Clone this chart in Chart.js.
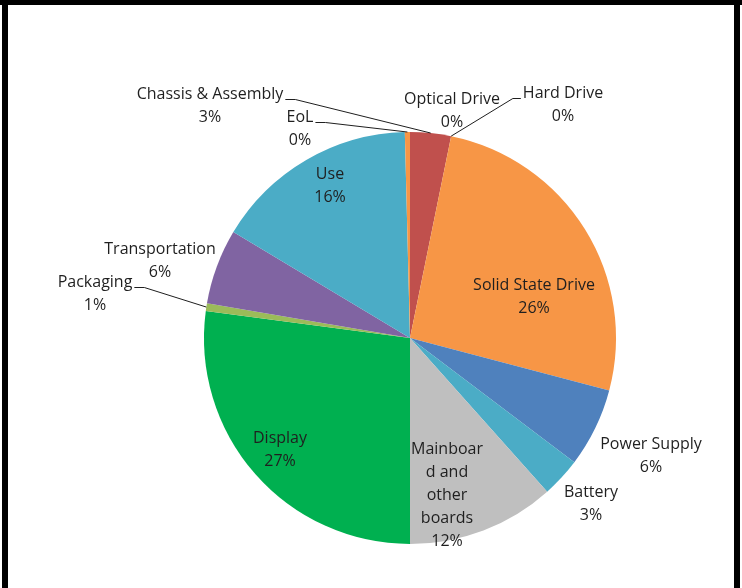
<!DOCTYPE html>
<html>
<head>
<meta charset="utf-8">
<script src="https://cdn.jsdelivr.net/npm/chart.js@4/dist/chart.umd.min.js"></script>
<style>
  html, body { margin: 0; padding: 0; background: #fff; }
  canvas { display: block; }
</style>
</head>
<body>
<canvas id="pie" width="742" height="588"></canvas>
<script>
// slice order is clockwise from 12 o'clock, as in the picture
const categories = ['Chassis & Assembly', 'Optical Drive', 'Hard Drive', 'Solid State Drive',
  'Power Supply', 'Battery', 'Mainboard and other boards', 'Display', 'Packaging',
  'Transportation', 'Use', 'EoL'];
const shares = [3.2, 0, 0, 25.9, 6.2, 3.1, 11.6, 27.1, 0.6, 5.9, 16.0, 0.4];
const sliceColors = ['#C0504D', '#4F81BD', '#9BBB59', '#F79646', '#4F81BD', '#4BACC6',
  '#BFBFBF', '#00B050', '#9BBB59', '#8064A2', '#4BACC6', '#F79646'];

// where each data label sits, relative to the pie centre (px), and leader side
var labelSpots = [
  {dx: -200, dy: -232, leader: 'right'},
  {dx: 42, dy: -227},
  {dx: 153, dy: -233, leader: 'left'},
  {dx: 124, dy: -41},
  {dx: 241, dy: 118},
  {dx: 181, dy: 166},
  {dx: 37, dy: 157, wrap: ['Mainboar', 'd and', 'other', 'boards']},
  {dx: -130, dy: 112},
  {dx: -315, dy: -44, leader: 'right'},
  {dx: -250, dy: -77},
  {dx: -80, dy: -152},
  {dx: -110, dy: -209, leader: 'right'}
];

var FONT = '16px "Open Sans", sans-serif';
var LINE_H = 23;

var framePlugin = {
  id: 'frame',
  beforeDraw: function(chart) {
    var c = chart.ctx;
    c.save();
    c.fillStyle = '#fff';
    c.fillRect(0, 0, chart.width, chart.height);
    c.fillStyle = '#000';
    c.fillRect(0, 0, chart.width, 5);
    c.fillRect(2, 0, 6, chart.height);
    c.fillRect(734, 0, 6, chart.height);
    c.restore();
  }
};

var sliceLabels = {
  id: 'sliceLabels',
  afterDraw: function(chart) {
    var c = chart.ctx;
    var meta = chart.getDatasetMeta(0);
    var vals = chart.data.datasets[0].data;
    var total = vals.reduce(function(a, b) { return a + b; }, 0);
    c.save();
    c.font = FONT;
    c.fillStyle = '#1f1f1f';
    c.strokeStyle = '#1f1f1f';
    c.lineWidth = 1;
    c.textAlign = 'center';
    c.textBaseline = 'middle';
    for (let i = 0; i < vals.length; i++) {
      var arc = meta.data[i];
      var spot = labelSpots[i];
      var lines = (spot.wrap || [chart.data.labels[i]]).slice();
      lines.push(Math.round(vals[i] / total * 100) + '%');
      var x = arc.x + spot.dx;
      var y0 = arc.y + spot.dy - (lines.length - 1) * LINE_H / 2;
      for (let j = 0; j < lines.length; j++) {
        c.fillText(lines[j], x, y0 + j * LINE_H);
      }
      if (spot.leader) {
        var mid = (arc.startAngle + arc.endAngle) / 2;
        var px = arc.x + Math.cos(mid) * arc.outerRadius;
        var py = arc.y + Math.sin(mid) * arc.outerRadius;
        var w = c.measureText(lines[0]).width;
        var sx, hx;
        if (spot.leader == 'right') {
          sx = x + w / 2 + 2; hx = sx + 10;
        } else {
          sx = x - w / 2 - 2; hx = sx - 8;
        }
        var sy = y0 + 5;
        c.beginPath();
        c.moveTo(sx, sy);
        c.lineTo(hx, sy);
        c.lineTo(px, py);
        c.stroke();
      }
    }
    c.restore();
  }
};

new Chart(document.getElementById('pie').getContext('2d'), {
  type: 'pie',
  data: {
    labels: categories,
    datasets: [{
      data: shares,
      backgroundColor: sliceColors,
      borderWidth: 0
    }]
  },
  options: {
    responsive: false,
    animation: false,
    layout: { padding: { left: 204, right: 126, top: 132, bottom: 44 } },
    plugins: {
      legend: { display: false },
      tooltip: { enabled: false }
    }
  },
  plugins: [framePlugin, sliceLabels]
});
</script>
</body>
</html>
